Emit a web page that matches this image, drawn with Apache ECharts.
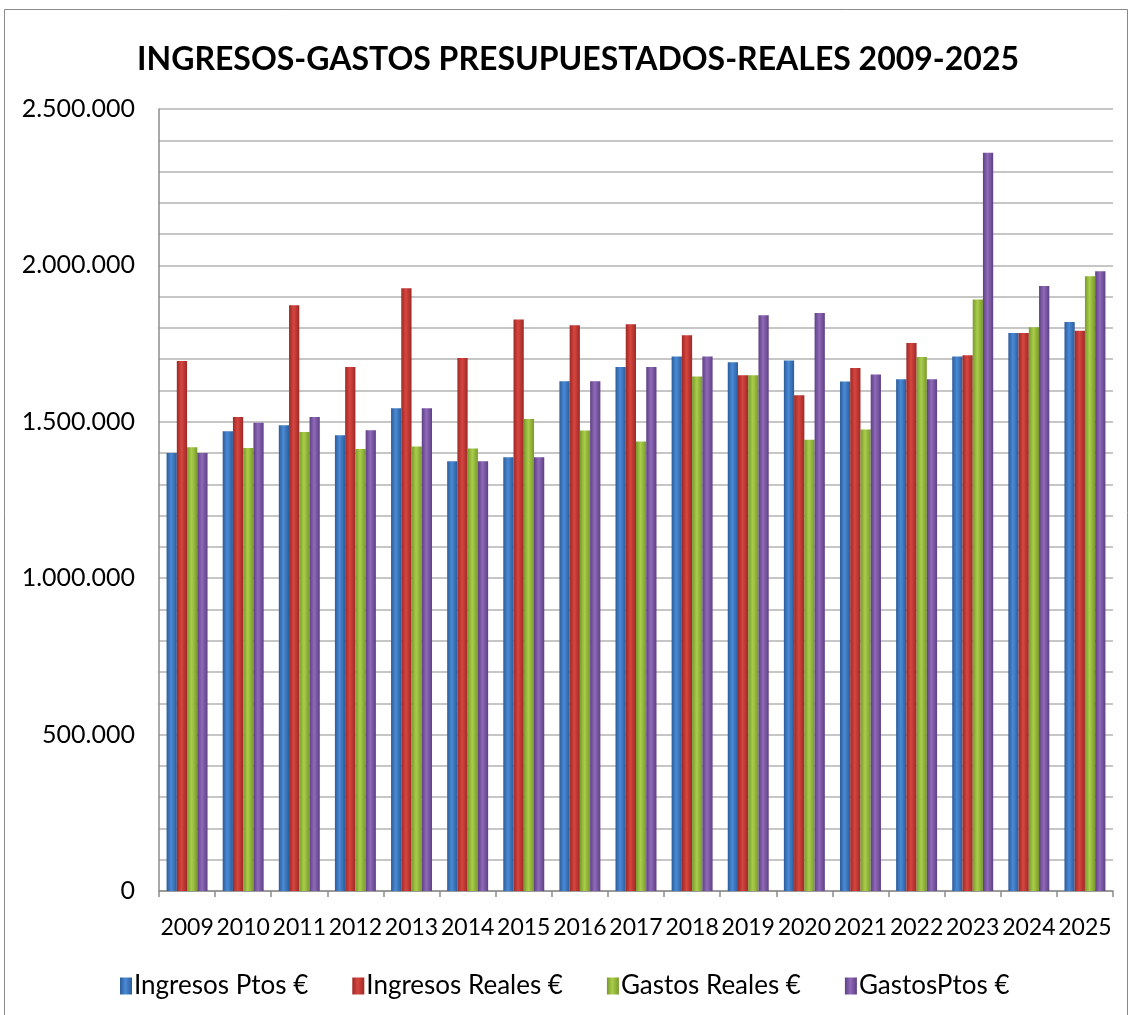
<!DOCTYPE html>
<html>
<head>
<meta charset="utf-8">
<script src="https://cdn.jsdelivr.net/npm/echarts@6/dist/echarts.min.js"></script>
<style>
  html, body { margin: 0; padding: 0; background: #fff; }
  #chart { width: 1130px; height: 1015px; }
</style>
</head>
<body>
<div id="chart"></div>
<script>
var years = ['2009','2010','2011','2012','2013','2014','2015','2016','2017','2018','2019','2020','2021','2022','2023','2024','2025'];
var ingresosPtos   = [1400000,1470000,1489000,1457000,1543000,1374000,1387000,1630000,1675000,1709000,1690000,1696000,1629000,1636000,1709000,1784000,1819000];
var ingresosReales = [1694000,1515000,1873000,1675000,1927000,1704000,1827000,1809000,1812000,1777000,1649000,1585000,1672000,1752000,1713000,1784000,1791000];
var gastosReales   = [1419000,1416000,1467000,1413000,1421000,1415000,1509000,1472000,1437000,1645000,1649000,1443000,1475000,1707000,1891000,1802000,1965000];
var gastosPtos     = [1400000,1497000,1515000,1473000,1543000,1374000,1387000,1630000,1675000,1709000,1841000,1848000,1651000,1636000,2360000,1934000,1981000];

var names = ['Ingresos Ptos €','Ingresos Reales €','Gastos Reales €','GastosPtos €'];
var colors = [
  ['#2b5c9a','#4a8ad6'],
  ['#9e2826','#d6463f'],
  ['#789a2c','#aacd4a'],
  ['#5e3f85','#8f6ab8']
];

function fmt(v) {
  return String(v).replace(/\B(?=(\d{3})+(?!\d))/g, '.');
}

function barColor(c) {
  return new echarts.graphic.LinearGradient(0, 0, 1, 0, [
    { offset: 0, color: c[0] },
    { offset: 0.45, color: c[1] },
    { offset: 1, color: c[0] }
  ]);
}

var font = 'Lato';
var myChart = echarts.init(document.getElementById('chart'));

var series = [ingresosPtos, ingresosReales, gastosReales, gastosPtos].map(function (d, i) {
  return {
    name: names[i],
    type: 'bar',
    data: d,
    barGap: '0%',
    barCategoryGap: '27%',
    itemStyle: { color: barColor(colors[i]) }
  };
});

myChart.setOption({
  animation: false,
  title: {
    text: 'INGRESOS-GASTOS PRESUPUESTADOS-REALES 2009-2025',
    left: 132,
    top: 39,
    textStyle: { fontFamily: font, fontSize: 32, fontWeight: 'bold', color: '#000' }
  },
  graphic: [{
    type: 'rect',
    shape: { x: 4.5, y: 9.5, width: 1123, height: 1010 },
    style: { fill: 'none', stroke: '#898989', lineWidth: 1 },
    silent: true
  }],
  legend: {
    data: names,
    left: 115,
    top: 968,
    itemWidth: 12,
    itemHeight: 17,
    itemGap: 44,
    icon: 'rect',
    textStyle: { fontFamily: font, fontSize: 26, color: '#000', padding: [0, 0, 0, -3] }
  },
  grid: { left: 159, right: 17, top: 109, bottom: 124, containLabel: false },
  xAxis: {
    type: 'category',
    data: years,
    axisLine: { lineStyle: { color: '#8c8c8c', width: 1.5 } },
    axisTick: { show: true, length: 6, lineStyle: { color: '#8c8c8c', width: 1.5 } },
    axisLabel: { interval: 0, margin: 25, fontFamily: font, fontSize: 23, color: '#000' }
  },
  yAxis: {
    type: 'value',
    min: 0,
    max: 2500000,
    interval: 100000,
    axisLine: { show: true, lineStyle: { color: '#8c8c8c', width: 1.5 } },
    axisTick: { show: false },
    splitLine: { lineStyle: { color: '#b3b3b3', width: 1.5 } },
    axisLabel: {
      margin: 24,
      fontFamily: font,
      fontSize: 25,
      color: '#000',
      formatter: function (v) { return v % 500000 === 0 ? fmt(v) : ''; }
    }
  },
  series: series
});
</script>
</body>
</html>
